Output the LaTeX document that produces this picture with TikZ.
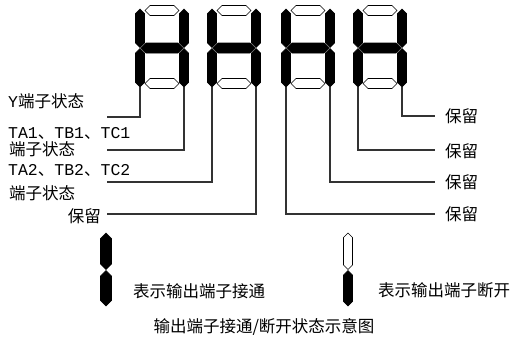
\documentclass[tikz,border=0pt]{standalone}
\usepackage{fontspec}
\setmainfont{Noto Sans CJK SC}
\newfontfamily\latinmono{Liberation Mono}
\begin{document}
\begin{tikzpicture}[x=1pt,y=-1pt,
  segon/.style={fill=black,draw=black,line width=0.6pt,line join=miter},
  segoff/.style={fill=white,draw=black,line width=0.6pt,line join=miter},
  leader/.style={draw=black!80,line width=1.1pt},
  lbl/.style={inner sep=0pt,font=\fontsize{16.5}{19}\selectfont}]
\useasboundingbox (0,0) rectangle (529,341);
% vertical segment: x, y1, y2, half-width, style
\newcommand\vsegm[5]{\path[#5] (#1,#2) -- (#1+#4,#2+#4) -- (#1+#4,#3-#4) -- (#1,#3) -- (#1-#4,#3-#4) -- (#1-#4,#2+#4) -- cycle;}
% horizontal segment: x1, x2, y, half-height, style
\newcommand\hsegm[5]{\path[#5] (#1,#3) -- (#1+#4,#3-#4) -- (#2-#4,#3-#4) -- (#2,#3) -- (#2-#4,#3+#4) -- (#1+#4,#3+#4) -- cycle;}
\newcommand\digitat[1]{%
  \vsegm{#1}{9}{47.5}{4.5}{segon}
  \vsegm{#1}{48.5}{87}{4.5}{segon}
  \vsegm{#1+44}{9}{47.5}{4.5}{segon}
  \vsegm{#1+44}{48.5}{87}{4.5}{segon}
  \hsegm{#1+5}{#1+39}{10.5}{5}{segoff}
  \hsegm{#1+1}{#1+43}{48}{5}{segon}
  \hsegm{#1+5}{#1+39}{83.5}{5}{segoff}}
\digitat{140}
\digitat{212}
\digitat{286}
\digitat{358}
% tips of the lower verticals
\coordinate (aL) at (140,87);
\coordinate (aR) at (184,87);
\coordinate (bL) at (212,87);
\coordinate (bR) at (256,87);
\coordinate (cL) at (286,87);
\coordinate (cR) at (330,87);
\coordinate (dL) at (358,87);
\coordinate (dR) at (402,87);
% free ends of the leaders
\coordinate (e1) at (107,117);
\coordinate (e2) at (107,150);
\coordinate (e3) at (107,182);
\coordinate (e4) at (107,214);
\coordinate (f1) at (435,116);
\coordinate (f2) at (435,150);
\coordinate (f3) at (435,182);
\coordinate (f4) at (435,214);
\draw[leader] (aL) |- (e1);
\draw[leader] (aR) |- (e2);
\draw[leader] (bL) |- (e3);
\draw[leader] (bR) |- (e4);
\draw[leader] (dR) |- (f1);
\draw[leader] (dL) |- (f2);
\draw[leader] (cR) |- (f3);
\draw[leader] (cL) |- (f4);
% left labels
\node[lbl,anchor=west] (ty) at (8,101) {{\latinmono Y}端子状态};
\node[lbl,anchor=west] (ta1) at (8,133) {{\latinmono TA1}、{\latinmono TB1}、{\latinmono TC1}};
\node[lbl,anchor=west] (ta1b) at (9,149) {端子状态};
\node[lbl,anchor=west] (ta2) at (8,170) {{\latinmono TA2}、{\latinmono TB2}、{\latinmono TC2}};
\node[lbl,anchor=west] (ta2b) at (9,193) {端子状态};
\node[lbl,anchor=east] (tl) at (101,216) {保留};
% right labels
\node[lbl,anchor=west] (tr1) at (445,116) {保留};
\node[lbl,anchor=west] (tr2) at (445,151) {保留};
\node[lbl,anchor=west] (tr3) at (445,182) {保留};
\node[lbl,anchor=west] (tr4) at (445,214) {保留};
% legend
\vsegm{106}{233}{269.5}{5.5}{segon}
\vsegm{106}{270.5}{306}{5.5}{segon}
\vsegm{348}{233}{269.5}{4.5}{segoff}
\vsegm{348}{270.5}{306}{4.5}{segon}
\node[lbl,anchor=west] (leg1) at (133,291) {表示输出端子接通};
\node[lbl,anchor=west] (leg2) at (378,290) {表示输出端子断开};
\node[lbl] (cap) at (264,327) {输出端子接通/断开状态示意图};
\end{tikzpicture}
\end{document}
